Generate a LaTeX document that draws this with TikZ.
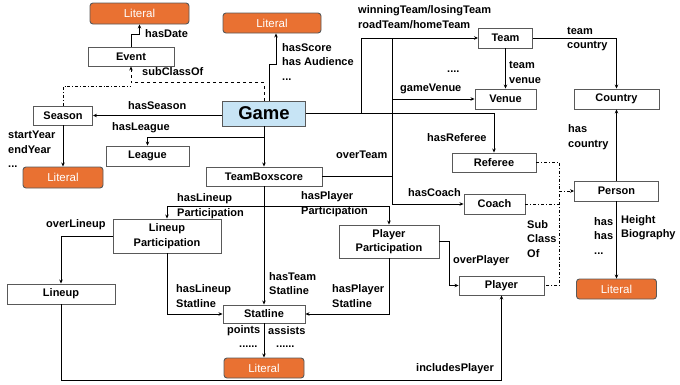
\documentclass[tikz,border=0pt]{standalone}
\usepackage{fontspec}
\setmainfont{Liberation Sans}
\usetikzlibrary{arrows.meta}
\definecolor{LitOrange}{HTML}{E97132}
\definecolor{GameBlue}{HTML}{C7E4F5}
\definecolor{EdgeGray}{HTML}{595959}

\begin{document}
\begin{tikzpicture}[
    x=1pt, y=-1pt,
    font=\fontsize{11}{14.5}\selectfont\bfseries,
    cls/.style={draw=EdgeGray, fill=white, line width=0.9pt, inner sep=0pt,
                align=center, minimum height=20pt},
    lit/.style={draw=EdgeGray, fill=LitOrange, text=white, rounded corners=3pt,
                line width=0.9pt, inner sep=0pt, minimum width=80pt, minimum height=20pt,
                font=\fontsize{11.5}{14}\selectfont\mdseries},
    hub/.style={cls, fill=GameBlue, font=\fontsize{18.5}{20}\selectfont\bfseries},
    lbl/.style={anchor=west, align=left, inner sep=0pt},
    a/.style={-{Stealth[length=4pt, width=3.5pt]}, line width=0.8pt},
    ln/.style={line width=0.8pt},
    sub/.style={a, dashed},
    dd/.style={line width=0.8pt, dash dot},
  ]
  \useasboundingbox (0,0) rectangle (680,384);
  % classes
  \node[hub, minimum width=83pt, minimum height=25pt] (game) at (264,113.5) {Game};
  \node[cls, minimum width=86pt, minimum height=19pt] (event)   at (131,56.5)  {Event};
  \node[cls, minimum width=59pt, minimum height=19pt] (season)  at (63,115.5)  {Season};
  \node[cls, minimum width=83pt] (league)  at (147.5,156) {League};
  \node[cls, minimum width=116pt, minimum height=19pt] (tbs) at (264,176.5) {TeamBoxscore};
  \node[cls, minimum width=54pt] (team)    at (505.5,38)  {Team};
  \node[cls, minimum width=61pt] (venue)   at (505.5,99)  {Venue};
  \node[cls, minimum width=85pt] (country) at (616.5,99)  {Country};
  \node[cls, minimum width=84pt, minimum height=19pt] (referee) at (494,162.5) {Referee};
  \node[cls, minimum width=61pt] (coach)   at (494.5,204) {Coach};
  \node[cls, minimum width=84pt] (person)  at (616.5,191) {Person};
  \node[cls, minimum width=85pt, minimum height=19pt] (player) at (501.5,285.5) {Player};
  \node[cls, minimum width=100pt, minimum height=33pt] (pp) at (389,241.5) {Player\\Participation};
  \node[cls, minimum width=108pt, minimum height=34pt] (lp) at (167,236) {Lineup\\Participation};
  \node[cls, minimum width=108pt] (lineup) at (61,294) {Lineup};
  \node[cls, minimum width=82pt, minimum height=18pt] (stat) at (264,314) {Statline};
  % literals
  \node[lit, minimum width=99pt, minimum height=21pt] (litDate) at (139.5,13.5) {Literal};
  \node[lit, minimum width=98pt] (litScore)  at (272,23)    {Literal};
  \node[lit, minimum height=21pt] (litSeason) at (63,177.5) {Literal};
  \node[lit] (litPerson) at (616.5,289) {Literal};
  \node[lit] (litStat)   at (264,368)   {Literal};

  % upper left
  \draw[a] (event.north) -- ++(0,-12) -| (litDate.south);
  \node[lbl] (lDate) at (145,34) {hasDate};
  \draw[a] ([xshift=5pt]game.north) -- ++(0,-36) -| ([xshift=4pt]litScore.south);
  \node[lbl] (lScore) at (282,62) {hasScore\\has Audience\\...};
  \draw[sub] (game.north) -- ++(0,-18) -| (event.south);
  \coordinate (evSub) at ([yshift=-20pt]event.south);
  \draw[dd] (season.north) |- (evSub);
  \node[lbl] (lSub) at (142,72) {subClassOf};
  \draw[a] (game.west |- season.east) -- (season.east);
  \node[lbl] (lSeason) at (128,106) {hasSeason};
  \draw[a] ([yshift=-11pt]game.south) -| (league.north);
  \node[lbl] (lLeague) at (112,128) {hasLeague};
  \draw[a] (season.south) -- (litSeason.north);
  \node[lbl] (lYear) at (8,149.5) {startYear\\endYear\\...};
  \draw[a] (game.south) -- (tbs.north);

  % upper right
  \draw[a] (game.east) -| (referee.north);
  \node[lbl] (lRef) at (427,138) {hasReferee};
  \draw[a] ([xshift=55pt]game.east) |- (team.west);
  \node[lbl] (lTeam) at (358,17) {winningTeam/losingTeam\\roadTeam/homeTeam};
  \coordinate (ovt) at ([xshift=-86pt]team.west);
  \draw[ln] (tbs.east) -| (ovt);
  \node[lbl] (lOver) at (336,155) {overTeam};
  \draw[a] (ovt |- venue.west) -- (venue.west);
  \node[lbl] (lVenue) at (400,89) {gameVenue};
  \node[lbl] (lDots) at (447,72) {....};
  \draw[a] (ovt |- tbs.east) |- (coach.west);
  \node[lbl] (lCoach) at (408,193) {hasCoach};
  \draw[a] (team.south) -- (venue.north);
  \node[lbl] (lTv) at (509,72.5) {team\\venue};
  \draw[a] (team.east) -| (country.north);
  \node[lbl] (lTc) at (567,39) {team\\country};
  \draw[a] (person.north) -- (country.south);
  \node[lbl] (lPc) at (568,137) {has\\country};
  \draw[a] (person.south) -- (litPerson.north);
  \node[lbl] (lHas) at (594,236) {has\\has\\...};
  \node[lbl] (lBio) at (621,227.5) {Height\\Biography};
  % subclasses of person
  \coordinate (sc) at ([xshift=23pt]referee.east);
  \draw[dd] (referee.east) -| (sc |- player.east) -- (player.east);
  \draw[dd] (coach.east) -- (coach.east -| sc);
  \draw[dd, -{Stealth[length=4pt, width=3.5pt]}] (person.west -| sc) -- (person.west);
  \node[lbl] (lSc) at (527,239) {Sub\\Class\\Of};

  % box scores
  \coordinate (tbsJ) at ([yshift=-20pt]tbs.south);
  \draw[a] (tbsJ) -| (lp.north);
  \draw[a] (tbsJ) -| (pp.north);
  \node[lbl] (lLp) at (177,206) {hasLineup\\Participation};
  \node[lbl] (lPp) at (301,204) {hasPlayer\\Participation};
  \draw[a] (tbs.south) -- (stat.north);
  \node[lbl] (lTs) at (269,283.5) {hasTeam\\Statline};
  \draw[a] (lp.south) |- (stat.west);
  \node[lbl] (lLs) at (176,296) {hasLineup\\Statline};
  \draw[a] (pp.south) |- (stat.east);
  \node[lbl] (lPs) at (332,296) {hasPlayer\\Statline};
  \draw[a] (stat.south) -- (litStat.north);
  \node[lbl] (lPts) at (227,331) {points};
  \node[lbl] (lAst) at (268,331) {assists};
  \node[lbl] (lD1) at (239,347) {......};
  \node[lbl] (lD2) at (276,347) {......};
  \draw[a] (lp.west) -| (lineup.north);
  \node[lbl] (lOl) at (46,225) {overLineup};
  \draw[a] (lineup.south) -- ++(0,76) -| (player.south);
  \node[lbl] (lInc) at (416,369) {includesPlayer};
  \draw[a] (pp.east) -- ++(10,0) |- (player.west);
  \node[lbl] (lOp) at (453,261) {overPlayer};
\end{tikzpicture}
\end{document}
